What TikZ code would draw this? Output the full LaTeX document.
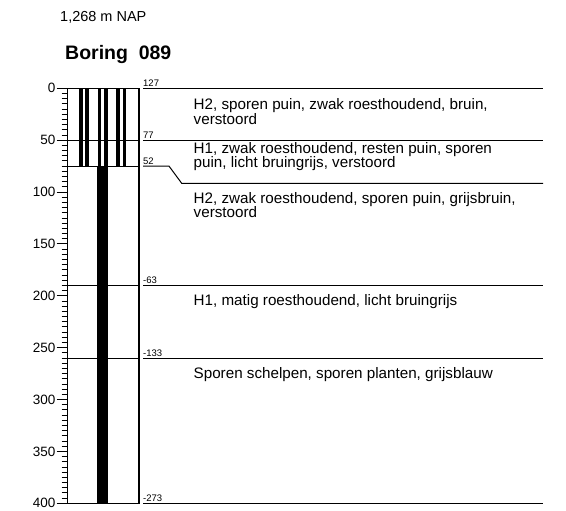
\documentclass[tikz,border=0pt]{standalone}
\usepackage{fontspec}
\setmainfont{Liberation Sans}
\begin{document}
\begin{tikzpicture}[x=1pt,y=-1pt,
  axlbl/.style={font=\fontsize{13.5}{15}\selectfont, anchor=east, inner sep=0pt},
  naplbl/.style={font=\fontsize{9.5}{10}\selectfont, anchor=base west, inner sep=0pt},
  desc/.style={font=\fontsize{15.2}{15}\selectfont, anchor=base west, inner sep=0pt},
  sepline/.style={line width=1pt},
  bar/.style={fill=black}]
\useasboundingbox (0,0) rectangle (566,511);
% header
\node[font=\fontsize{14.5}{15}\selectfont, anchor=base west, inner sep=0pt] (nap) at (60,22) {1,268 m NAP};
\node[font=\fontsize{19.5}{20}\bfseries\selectfont, anchor=base west, inner sep=0pt] (title) at (65,60) {Boring\hspace{0.55em}089};
% column pattern
\foreach \a/\b in {79.3/82.9,85.3/89,97.6/101.1,104.1/107.7,116.3/119.8,122.7/126.2}
  \fill[bar] (\a,88.3) rectangle (\b,166.1);
\fill[bar] (97.4,166.1) rectangle (107.7,503.3);
\foreach \y in {140.2,166.1,285.4,358.05}
  \draw[sepline] (67.7,\y) -- (139,\y);
\draw[line width=1.3pt] (67.7,88.3) rectangle (139,503.3);
% axis ticks
\foreach \d in {0,5,...,400}
  \draw[line width=0.9pt] (61.7,{88.3+\d*1.0375}) -- (67.7,{88.3+\d*1.0375});
\foreach \d in {0,50,...,400}{
  \draw[line width=0.9pt] (56.7,{88.3+\d*1.0375}) -- (67.7,{88.3+\d*1.0375});
  \node[axlbl] (ax\d) at (55.5,{88.3+\d*1.0375}) {\d};
}
% NAP label lines
\draw[sepline] (143,88.3) -- (543,88.3);
\draw[sepline] (143,140.2) -- (543,140.2);
\draw[sepline] (143,166.1) -- (169,166.1) -- (181.7,183.3) -- (543,183.3);
\draw[sepline] (143,285.4) -- (543,285.4);
\draw[sepline] (143,358.05) -- (543,358.05);
\draw[sepline] (143,503.3) -- (543,503.3);
\node[naplbl] (n1) at (143,86.3) {127};
\node[naplbl] (n2) at (143,138.2) {77};
\node[naplbl] (n3) at (143,164.1) {52};
\node[naplbl] (n4) at (143,283.4) {-63};
\node[naplbl] (n5) at (143,356.05) {-133};
\node[naplbl] (n6) at (143,501.3) {-273};
% descriptions
\node[desc] (d1a) at (193.5,110) {H2, sporen puin, zwak roesthoudend, bruin,};
\node[desc] (d1b) at (193.5,124.5) {verstoord};
\node[desc] (d2a) at (193.5,153.3) {H1, zwak roesthoudend, resten puin, sporen};
\node[desc] (d2b) at (193.5,167.8) {puin, licht bruingrijs, verstoord};
\node[desc] (d3a) at (193.5,203.3) {H2, zwak roesthoudend, sporen puin, grijsbruin,};
\node[desc] (d3b) at (193.5,217.8) {verstoord};
\node[desc] (d4) at (193.5,305) {H1, matig roesthoudend, licht bruingrijs};
\node[desc] (d5) at (193.5,378) {Sporen schelpen, sporen planten, grijsblauw};
\end{tikzpicture}
\end{document}
